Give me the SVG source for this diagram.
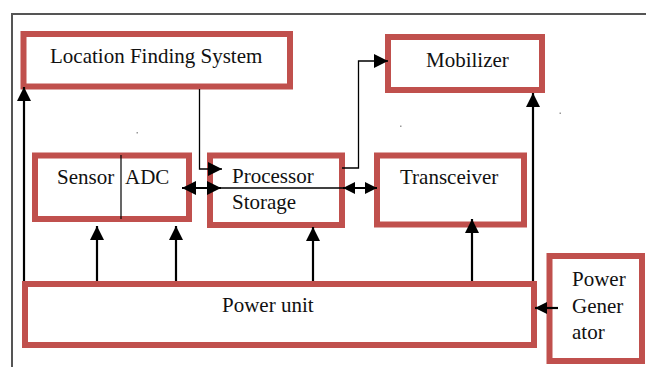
<svg xmlns="http://www.w3.org/2000/svg" width="646" height="367" viewBox="0 0 646 367">
  <style>
    .box { fill: #ffffff; stroke: #c0504d; stroke-width: 6; }
    .lbl { font-family: "Liberation Serif", "Times New Roman", serif; font-size: 21px; fill: #111111; }
    .thick { fill: none; stroke: #000000; stroke-width: 2.2; }
    .thin { fill: none; stroke: #000000; stroke-width: 1.3; }
    .frame { fill: none; stroke: #555555; stroke-width: 2; }
    .speck { fill: #999999; }
  </style>
  <defs>
    <marker id="head" viewBox="0 0 14 14" refX="14" refY="7" markerWidth="14" markerHeight="14" markerUnits="userSpaceOnUse" orient="auto-start-reverse">
      <path d="M0,0 L14,7 L0,14 Z" fill="#000000"/>
    </marker>
    <marker id="headSmall" viewBox="0 0 14 14" refX="14" refY="7" markerWidth="13" markerHeight="12" markerUnits="userSpaceOnUse" orient="auto-start-reverse">
      <path d="M0,0 L14,7 L0,14 Z" fill="#000000"/>
    </marker>
  </defs>

  <rect width="646" height="367" fill="#ffffff"/>

  <!-- page frame -->
  <path class="frame" d="M12,367 V14 H646"/>

  <!-- stray specks -->
  <g id="specks">
    <rect class="speck" x="136.5" y="132" width="1.5" height="1.5"/>
    <rect class="speck" x="400" y="125.5" width="1.5" height="1.5"/>
    <rect class="speck" x="559.5" y="112.5" width="1.5" height="1.5"/>
    <rect class="speck" x="175.5" y="333.5" width="1.5" height="1.5"/>
    <rect class="speck" x="194.5" y="333.5" width="1.5" height="1.5"/>
  </g>

  <g id="location-finding-system">
    <rect class="box" x="23.5" y="34" width="266.5" height="52.5"/>
    <text class="lbl" x="50" y="63">Location Finding System</text>
  </g>

  <g id="mobilizer">
    <rect class="box" x="388" y="37" width="154" height="53"/>
    <text class="lbl" x="426" y="67">Mobilizer</text>
  </g>

  <g id="sensor-adc">
    <rect class="box" x="35" y="155.5" width="154" height="63.5"/>
    <line x1="121" y1="155" x2="121" y2="219" stroke="#000000" stroke-width="1.2"/>
    <text class="lbl" x="57" y="184">Sensor</text>
    <text class="lbl" x="125" y="184">ADC</text>
  </g>

  <g id="processor-storage">
    <rect class="box" x="210" y="155.5" width="132" height="69.5"/>
    <text class="lbl" x="232" y="183">Processor</text>
    <text class="lbl" x="232" y="209">Storage</text>
  </g>

  <g id="transceiver">
    <rect class="box" x="377" y="155.5" width="147" height="69"/>
    <text class="lbl" x="400" y="184">Transceiver</text>
  </g>

  <g id="power-unit">
    <rect class="box" x="25" y="284" width="509" height="61"/>
    <text class="lbl" x="222" y="312">Power unit</text>
  </g>

  <g id="power-generator">
    <rect class="box" x="549.5" y="256" width="92.5" height="105"/>
    <text class="lbl" x="572" y="286">Power</text>
    <text class="lbl" x="572" y="313">Gener</text>
    <text class="lbl" x="572" y="339">ator</text>
  </g>

  <g id="connectors">
    <!-- power feeds -->
    <line class="thick" x1="24" y1="281" x2="24" y2="87" marker-end="url(#head)"/>
    <line class="thick" x1="97" y1="281" x2="97" y2="226" marker-end="url(#head)"/>
    <line class="thick" x1="176" y1="281" x2="176" y2="226" marker-end="url(#head)"/>
    <line class="thick" x1="313" y1="281" x2="313" y2="227" marker-end="url(#head)"/>
    <line class="thick" x1="472" y1="281" x2="472" y2="219" marker-end="url(#head)"/>
    <line class="thick" x1="533" y1="281" x2="533" y2="93" marker-end="url(#head)"/>
    <line class="thick" x1="558" y1="308" x2="535" y2="308" marker-end="url(#headSmall)"/>

    <!-- location data into processor -->
    <path class="thin" d="M199.5,89 V169 H222" marker-end="url(#head)"/>
    <!-- processor to mobilizer -->
    <path class="thin" d="M342,168 H358.5 V61 H388" marker-end="url(#head)"/>

    <!-- processor / storage divider running into the transceiver link -->
    <line class="thin" x1="213" y1="188" x2="345" y2="188"/>

    <!-- two-way links -->
    <line class="thick" x1="182" y1="188" x2="221" y2="188" marker-start="url(#head)" marker-end="url(#head)"/>
    <line class="thick" x1="343" y1="188" x2="377" y2="188" marker-start="url(#headSmall)" marker-end="url(#headSmall)"/>
  </g>
</svg>
